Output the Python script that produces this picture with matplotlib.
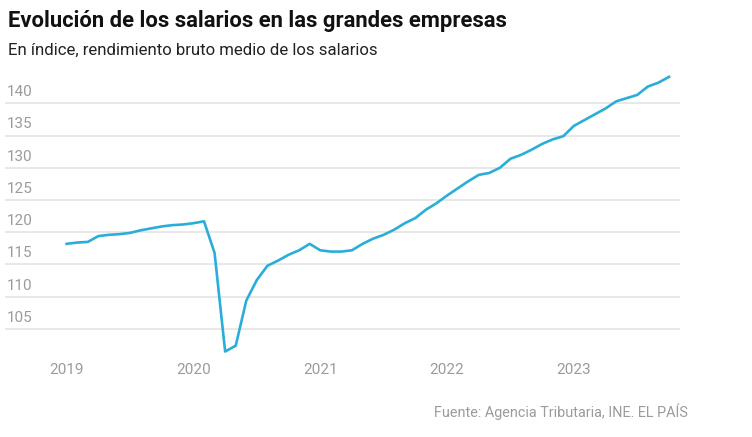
import matplotlib
matplotlib.use('Agg')
import matplotlib.pyplot as plt
import matplotlib.transforms as mtransforms

# monthly index, Jan 2019 .. Oct 2023
salarios = [118.2, 118.4, 118.5, 119.4, 119.6, 119.7, 119.9, 120.3, 120.6, 120.9, 121.1, 121.2,
            121.4, 121.7, 116.8, 101.5, 102.4, 109.4, 112.6, 114.8, 115.6, 116.5, 117.2, 118.2,
            117.2, 117.0, 117.0, 117.2, 118.2, 119.0, 119.6, 120.4, 121.4, 122.2, 123.5, 124.5,
            125.7, 126.8, 127.9, 128.9, 129.2, 130.0, 131.4, 132.0, 132.8, 133.7, 134.4, 134.9,
            136.5, 137.4, 138.3, 139.2, 140.3, 140.8, 141.3, 142.6, 143.2, 144.1]
meses = list(range(len(salarios)))
years = ['2019', '2020', '2021', '2022', '2023']
year_pos = [0, 12, 24, 36, 48]
y_ticks = [105, 110, 115, 120, 125, 130, 135, 140]

font = 'Roboto'
gris = '#9b9b9b'

fig = plt.figure(figsize=(7.52, 4.37), dpi=100)
ax = fig.add_axes([5/752, 1-361.2/437, 675/752, (361.2-64.6)/437])

for v in y_ticks:
    ax.axhline(v, color='#e8e8e8', lw=1.4, zorder=1)
ax.plot(meses, salarios, color='#2aaed9', lw=1.9, zorder=3)

ax.set_xlim(-5.83, 58.04)
ax.set_ylim(100, 146)
for s in ax.spines.values():
    s.set_visible(False)
ax.set_yticks([])
ax.set_xticks(year_pos)
ax.set_xticklabels(years, fontsize=11, color=gris, family=font)
ax.tick_params(axis='x', length=0, pad=1)

trans = mtransforms.blended_transform_factory(ax.transAxes, ax.transData)
for v in y_ticks:
    ax.text(0.003, v + 0.65, str(v), transform=trans, ha='left', va='bottom',
            fontsize=11, color=gris, family=font)

fig.text(8/752, 1-27.5/437, 'Evolución de los salarios en las grandes empresas',
         fontsize=15.8, fontweight='bold', color='#111111', family=font, va='baseline')
fig.text(8/752, 1-54.5/437, 'En índice, rendimiento bruto medio de los salarios',
         fontsize=12.1, color='#222222', family=font, va='baseline')
fig.text(688/752, 1-416.5/437, 'Fuente: Agencia Tributaria, INE. EL PAÍS',
         fontsize=10.4, color=gris, family=font, ha='right', va='baseline')

fig.savefig('out.png', dpi=100)
